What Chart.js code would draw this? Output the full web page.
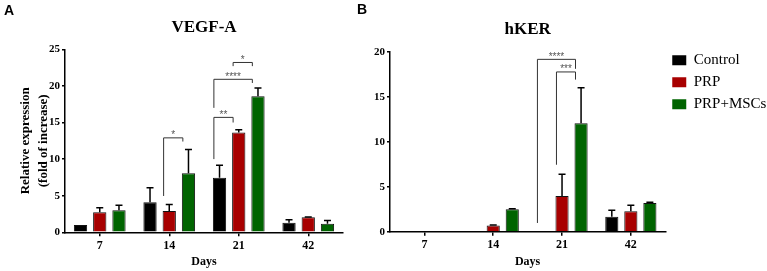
<!DOCTYPE html>
<html><head><meta charset="utf-8">
<script src="https://cdn.jsdelivr.net/npm/chart.js@4"></script>
<style>
html,body{margin:0;padding:0;background:#fff;}
#wrap{position:relative;width:767px;height:271px;overflow:hidden;background:#fff;}
.panel{position:absolute;top:0;}
.lab{position:absolute;font:bold 14px "Liberation Sans",Arial,sans-serif;color:#000;line-height:16px;}
</style></head><body>
<div id="wrap">
<canvas id="cA" class="panel" width="360" height="271" style="left:0"></canvas>
<canvas id="cB" class="panel" width="407" height="271" style="left:360px"></canvas>
<div class="lab" style="left:4px;top:2px">A</div>
<div class="lab" style="left:357px;top:1px">B</div>
</div>
<script>
// ---- data ----
const days = ['7', '14', '21', '42'];
const seriesNames = ['Control', 'PRP', 'PRP+MSCs'];

const vegfControl = [1.0, 4.1, 7.45, 1.3];
const vegfPRP     = [2.75, 2.9, 13.65, 2.05];
const vegfMSC     = [3.0, 8.05, 18.6, 1.18];
const vegfControlSD = [0, 2.0, 1.7, 0.4];
const vegfPRPSD     = [0.6, 0.9, 0.35, 0.05];
const vegfMSCSD     = [0.7, 3.25, 1.1, 0.42];

const hkerControl = [0, 0, 0, 1.67];
const hkerPRP     = [0, 0.7, 3.97, 2.27];
const hkerMSC     = [0, 2.5, 12.04, 3.2];
const hkerControlSD = [0, 0, 0, 0.7];
const hkerPRPSD     = [0, 0.05, 2.4, 0.66];
const hkerMSCSD     = [0, 0.05, 3.96, 0.08];

// significance brackets: [day index, from series, to series, top, left foot, right foot, label]
const vegfSig = [
  [1, 1, 2, 12.9, 4.96, 12.4, '*'],
  [2, 0, 1, 15.7, 10.0, 15.0, '**'],
  [2, 0, 2, 20.9, 17.0, 20.4, '****'],
  [2, 1, 2, 23.2, 22.7, 22.7, '*']
];
const hkerSig = [
  [2, 0, 2, 19.15, 0.97, 18.1, '****'],
  [2, 1, 2, 17.75, 7.44, 16.9, '***']
];

const vegfTicks = [0, 5, 10, 15, 20, 25];
const hkerTicks = [0, 5, 10, 15, 20];

const colors = ['#000000', '#a80000', '#006400'];
const SERIF = '"Liberation Serif", "Times New Roman", serif';

function overlayPlugin(sds, sigs) {
  return {
    id: 'overlay',
    afterDatasetsDraw(chart) {
      const ctx = chart.ctx;
      const y = chart.scales.y;
      ctx.save();
      // error bars
      ctx.strokeStyle = '#000';
      ctx.lineWidth = 1.5;
      chart.data.datasets.forEach((ds, i) => {
        const meta = chart.getDatasetMeta(i);
        meta.data.forEach((bar, j) => {
          const sd = sds[i][j];
          if (!sd) return;
          const top = y.getPixelForValue(ds.data[j] + sd);
          ctx.beginPath();
          ctx.moveTo(bar.x, bar.y);
          ctx.lineTo(bar.x, top);
          ctx.moveTo(bar.x - 3.5, top);
          ctx.lineTo(bar.x + 3.5, top);
          ctx.stroke();
        });
      });
      // brackets
      ctx.strokeStyle = '#333';
      ctx.lineWidth = 1;
      ctx.fillStyle = '#555';
      ctx.font = '10px "Liberation Sans", Arial, sans-serif';
      ctx.textAlign = 'center';
      ctx.textBaseline = 'alphabetic';
      sigs.forEach(([d, a, b, top, lf, rf, label]) => {
        const ba = chart.getDatasetMeta(a).data[d];
        const bb = chart.getDatasetMeta(b).data[d];
        const xL = ba.x - ba.width / 2 + 1;
        const xR = bb.x - bb.width / 2 + 1;
        const yT = y.getPixelForValue(top);
        ctx.beginPath();
        ctx.moveTo(xL, y.getPixelForValue(lf));
        ctx.lineTo(xL, yT);
        ctx.lineTo(xR, yT);
        ctx.lineTo(xR, y.getPixelForValue(rf));
        ctx.stroke();
        ctx.fillText(label, (xL + xR) / 2, yT + 0.5);
      });
      ctx.restore();
    }
  };
}

function makeDatasets(vals) {
  return vals.map((v, i) => ({
    label: seriesNames[i],
    data: v,
    backgroundColor: colors[i],
    borderColor: '#111',
    borderWidth: 1,
    categoryPercentage: 0.83,
    barPercentage: 0.69
  }));
}

function makeChart(id, opts) {
  return new Chart(document.getElementById(id), {
    type: 'bar',
    data: { labels: days, datasets: makeDatasets(opts.vals) },
    options: {
      responsive: false,
      animation: false,
      devicePixelRatio: 1,
      layout: { padding: { left: 0, right: opts.padRight, top: 0, bottom: 0 } },
      plugins: {
        tooltip: { enabled: false },
        title: {
          display: true, text: opts.title, fullSize: false, color: '#000',
          font: { family: SERIF, size: 17, weight: 'bold' },
          padding: opts.titlePad
        },
        legend: opts.legend
      },
      scales: {
        x: {
          offset: true,
          grid: { display: true, offset: false, drawOnChartArea: false, tickLength: 4, color: '#000', lineWidth: 1.5 },
          border: { display: true, color: '#000', width: 1.5 },
          ticks: { color: '#000', padding: 2, font: { family: SERIF, size: 12, weight: 'bold' } },
          title: { display: true, text: 'Days', color: '#000', padding: { top: 0, bottom: 2 },
                   font: { family: SERIF, size: 12, weight: 'bold' } },
          afterFit: s => { s.height = opts.xH; }
        },
        y: {
          min: 0, max: opts.max,
          afterBuildTicks: s => { s.ticks = opts.ticks.map(v => ({ value: v })); },
          grid: { display: true, drawOnChartArea: false, tickLength: 3, color: '#000', lineWidth: 1.5 },
          border: { display: true, color: '#000', width: 1.5 },
          ticks: { color: '#000', padding: 2, font: { family: SERIF, size: 11, weight: 'bold' } },
          title: opts.yTitle,
          afterFit: s => { s.width = opts.yW; }
        }
      }
    },
    plugins: [overlayPlugin(opts.sds, opts.sigs)]
  });
}

makeChart('cA', {
  vals: [vegfControl, vegfPRP, vegfMSC],
  sds: [vegfControlSD, vegfPRPSD, vegfMSCSD],
  sigs: vegfSig,
  title: 'VEGF-A',
  titlePad: { top: 17.3, bottom: 11.6 },
  max: 25, ticks: vegfTicks,
  padRight: 17, xH: 38.7, yW: 65,
  yTitle: { display: true, text: ['Relative expression', '(fold of increase)'], color: '#000',
            padding: { top: 17, bottom: 0 }, font: { family: SERIF, size: 13, weight: 'bold', lineHeight: 1.35 } },
  legend: { display: false }
});

makeChart('cB', {
  vals: [hkerControl, hkerPRP, hkerMSC],
  sds: [hkerControlSD, hkerPRPSD, hkerMSCSD],
  sigs: hkerSig,
  title: 'hKER',
  titlePad: { top: 19, bottom: 12.3 },
  max: 20, ticks: hkerTicks,
  padRight: 0, xH: 39.3, yW: 30,
  yTitle: { display: false },
  legend: {
    display: true, position: 'right', align: 'start',
    title: { display: true, text: '', font: { size: 10, lineHeight: 1 }, padding: { top: 35.7, bottom: 0 } },
    labels: {
      boxWidth: 14, boxHeight: 10, padding: 7, color: '#000',
      font: { family: SERIF, size: 15, lineHeight: 1.2 },
      generateLabels: chart => Chart.defaults.plugins.legend.labels.generateLabels(chart)
        .map(l => Object.assign(l, { lineWidth: 0, strokeStyle: 'rgba(0,0,0,0)' }))
    }
  }
});
</script>
</body></html>
